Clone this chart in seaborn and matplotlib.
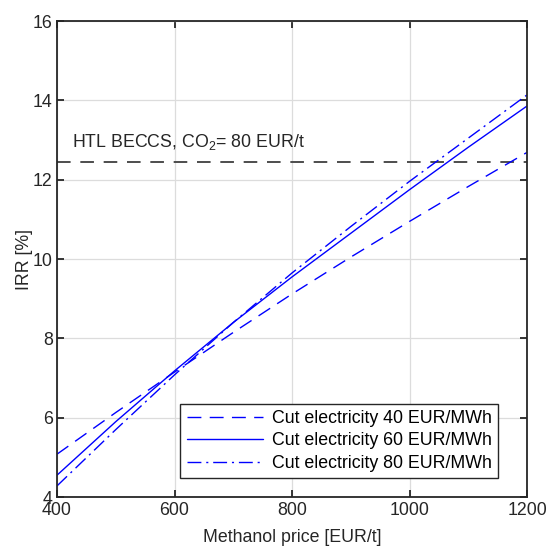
import matplotlib
matplotlib.use("Agg")
import matplotlib.pyplot as plt
import seaborn as sns
import pandas as pd

# Methanol price grid [EUR/t]
methanol_price = [400, 500, 600, 700, 800, 900, 1000, 1100, 1200]

# IRR [%] for each cut-electricity price
irr_cut_40 = [5.08, 6.13, 7.15, 8.15, 9.12, 10.05, 10.95, 11.83, 12.69]
irr_cut_60 = [4.55, 5.90, 7.18, 8.40, 9.55, 10.65, 11.75, 12.82, 13.86]
irr_cut_80 = [4.28, 5.70, 7.08, 8.40, 9.65, 10.82, 11.96, 13.05, 14.14]

series_labels = ["Cut electricity 40 EUR/MWh",
                 "Cut electricity 60 EUR/MWh",
                 "Cut electricity 80 EUR/MWh"]

# Reference IRR of HTL BECCS at a CO2 price of 80 EUR/t
beccs_irr = 12.45
beccs_label = "HTL BECCS, CO$_2$= 80 EUR/t"

x_ticks = [400, 600, 800, 1000, 1200]
y_ticks = [4, 6, 8, 10, 12, 14, 16]

sns.set_theme(style="white")
plt.rcParams["font.family"] = ["Liberation Sans", "DejaVu Sans"]
plt.rcParams["mathtext.fontset"] = "custom"
plt.rcParams["mathtext.rm"] = "Liberation Sans"
plt.rcParams["mathtext.it"] = "Liberation Sans"

ink = "#262626"
fs = 12.8

fig = plt.figure(figsize=(5.48, 5.46), dpi=100)
ax = fig.add_axes([0.104, 0.0897, 0.858, 0.8718])

df = pd.DataFrame({
    "price": methanol_price * 3,
    "irr": irr_cut_40 + irr_cut_60 + irr_cut_80,
    "case": [series_labels[0]] * len(methanol_price)
            + [series_labels[1]] * len(methanol_price)
            + [series_labels[2]] * len(methanol_price),
})

dash_styles = {
    series_labels[0]: (10, 6),
    series_labels[1]: "",
    series_labels[2]: (10, 3.5, 1.5, 3.5),
}

sns.lineplot(data=df, x="price", y="irr", style="case", dashes=dash_styles,
             color="#0000FF", linewidth=1.0, ax=ax, legend=True)

ax.plot([methanol_price[0], methanol_price[-1]], [beccs_irr, beccs_irr],
        color="#4D4D4D", linewidth=1.4, linestyle=(0, (7, 5)), zorder=1)
ax.text(426, 12.7, beccs_label, fontsize=fs, color=ink, va="bottom", ha="left")

ax.set_xlim(400, 1200)
ax.set_ylim(4, 16)
ax.set_xticks(x_ticks)
ax.set_yticks(y_ticks)
ax.grid(True, color="#DCDCDC", linewidth=0.9)
ax.set_axisbelow(True)

for side in ["left", "right", "top", "bottom"]:
    ax.spines[side].set_visible(True)
    ax.spines[side].set_color(ink)
    ax.spines[side].set_linewidth(1.3)

ax.tick_params(axis="both", which="both", direction="in", length=5, width=1.3,
               color=ink, labelcolor=ink, labelsize=fs,
               top=True, right=True, bottom=True, left=True)
ax.tick_params(axis="x", pad=3.5)
ax.tick_params(axis="y", pad=3)

ax.set_xlabel("Methanol price [EUR/t]", fontsize=fs, color=ink, labelpad=7)
ax.set_ylabel("IRR [%]", fontsize=fs, color=ink, labelpad=0)

leg = ax.legend(loc="lower right", bbox_to_anchor=(0.938, 0.04), fontsize=fs,
                frameon=True, fancybox=False, framealpha=1.0, edgecolor=ink,
                handlelength=4.3, handletextpad=0.5, borderpad=0.35,
                borderaxespad=0.0, labelspacing=0.3, title=None)
leg.get_frame().set_linewidth(1.0)
for line in leg.get_lines():
    line.set_color("#0000FF")
    line.set_linewidth(1.0)
for t in leg.get_texts():
    t.set_color("black")

fig.savefig("out.png", dpi=100, facecolor="white")
